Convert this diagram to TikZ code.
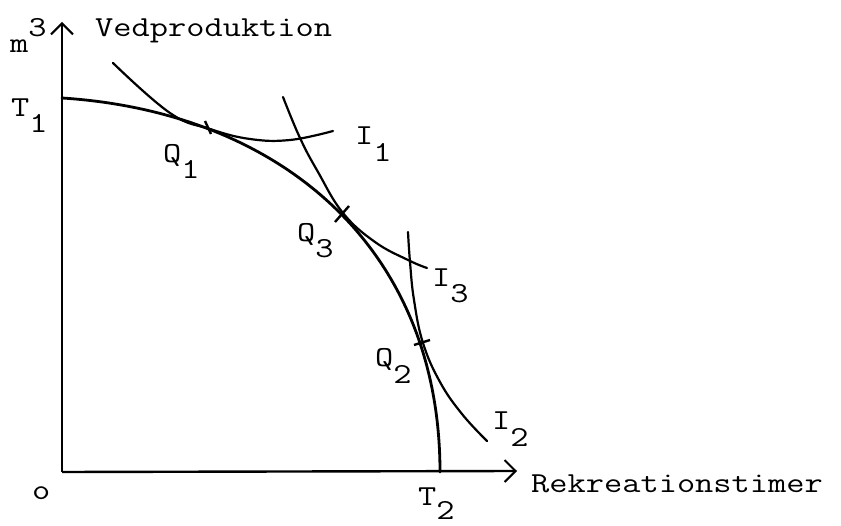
\documentclass[tikz,border=0pt]{standalone}
\usetikzlibrary{arrows.meta}
\newcommand\sublab[3]{#1\raisebox{-#3pt}{#2}}
\begin{document}
\begin{tikzpicture}[x=1pt,y=-1pt,
  txt/.style={inner sep=0pt,anchor=base west,xscale=1.22,font=\ttfamily\fontsize{29}{31}\selectfont},
  axis/.style={line width=2.4pt,-{Straight Barb[length=11pt,width=22pt,line width=2pt]}},
  curve/.style={line width=2.8pt,line cap=round},
  indiff/.style={line width=2.2pt,line cap=round},
  tick/.style={line width=2.4pt}]
\useasboundingbox (0,0) rectangle (841,526);
\coordinate (O) at (62,472);
\coordinate (ytop) at (62,22);
\coordinate (xend) at (517,471);
\coordinate (T1) at (62,98);
\coordinate (T2) at (440,472);
\draw[axis] (O) -- (ytop);
\draw[axis] (O) -- (xend);
% transformation curve
\draw[curve] (T1) .. controls (280,112) and (440,247) .. (T2);
% indifference curves
\draw[indiff] plot[smooth,tension=0.7] coordinates {(113,63) (170,113) (210,129) (250,139) (290,140) (333,131)};
\draw[indiff] plot[smooth,tension=0.7] coordinates {(283,97) (300,138) (318,172) (343,213) (375,242) (408,260) (427,268)};
\draw[indiff] plot[smooth,tension=0.7] coordinates {(408,232) (410,262) (414,300) (423,343) (440,382) (462,414) (487,441)};
% tangency ticks
\draw[tick] (205,121) -- (211,134);
\draw[tick] (335,222) -- (349,206);
\draw[tick] (414,345) -- (430,340);
% labels
\node[txt] (m3) at (10,53) {m\raisebox{16pt}{3}};
\node[txt] (ved) at (95,37) {Vedproduktion};
\node[txt] (lT1) at (11,117) {\sublab{T}{1}{16}};
\node[txt] (lQ1) at (163,163) {\sublab{Q}{1}{16}};
\node[txt] (lI1) at (355,145) {\sublab{I}{1}{17}};
\node[txt] (lQ3) at (297,242) {\sublab{Q}{3}{16}};
\node[txt] (lI3) at (432,287) {\sublab{I}{3}{16}};
\node[txt] (lQ2) at (375,367) {\sublab{Q}{2}{17}};
\node[txt] (lI2) at (492,430) {\sublab{I}{2}{17}};
\node[txt] (lT2) at (418,505) {\sublab{T}{2}{14}};
\node[txt] (lo) at (32,499) {o};
\node[txt] (rek) at (531,493) {Rekreationstimer};
\end{tikzpicture}
\end{document}
